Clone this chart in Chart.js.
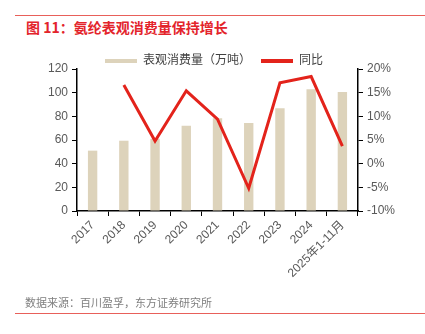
<!DOCTYPE html>
<html>
<head>
<meta charset="utf-8">
<script src="https://cdn.jsdelivr.net/npm/chart.js@4"></script>
<style>
  html, body { margin: 0; padding: 0; background: #fff; }
  #wrap { position: relative; width: 425px; height: 334px; overflow: hidden; }
  .rule { position: absolute; left: 15px; right: 0; height: 1px; background: #e8605a; }
  #title { position: absolute; left: 26px; top: 17px; font: bold 14px "Noto Sans CJK SC", sans-serif; color: #e3242b; }
  #source { position: absolute; left: 25px; top: 294px; font: 11px "Noto Sans CJK SC", sans-serif; color: #7f7f7f; }
  canvas { position: absolute; left: 0; top: 0; }
</style>
</head>
<body>
<div id="wrap">
  <div class="rule" style="top:15px"></div>
  <div id="title">图 11：氨纶表观消费量保持增长</div>
  <canvas id="chart" width="425" height="334"></canvas>
  <div id="source">数据来源：百川盈孚，东方证券研究所</div>
  <div class="rule" style="top:313px"></div>
</div>
<script>
const categories = ["2017", "2018", "2019", "2020", "2021", "2022", "2023", "2024", "2025年1-11月"]
const consumption = [51, 59.4, 61, 72, 78.3, 74.4, 86.8, 102.8, 100.6]
const yoy = [null, 16.6, 4.8, 15.4, 9.4, -5.2, 17.1, 18.4, 3.7]

const font = "'Liberation Sans', 'Noto Sans CJK SC', sans-serif"
const tickColor = "#595959"

const fixWidth = w => axis => { axis.width = w }

// keep the legend strip short so it sits just above the plot
const legendHeight = {
  id: "legendHeight",
  beforeUpdate(chart) {
    const lg = chart.legend
    if (!lg || lg._short) return
    const fit = lg.fit.bind(lg)
    lg.fit = function () { fit(); this.height = 24 }
    lg._short = true
  }
}

new Chart(document.getElementById("chart"), {
  data: {
    labels: categories,
    datasets: [
      {
        type: "line",
        label: "同比",
        data: yoy,
        yAxisID: "y1",
        borderColor: "#e3231b",
        backgroundColor: "#e3231b",
        borderWidth: 3,
        pointRadius: 0,
        tension: 0,
        order: 0
      },
      {
        type: "bar",
        label: "表观消费量（万吨）",
        data: consumption,
        yAxisID: "y",
        backgroundColor: "#ddd3bb",
        barPercentage: 0.6,
        categoryPercentage: 0.5,
        order: 1
      }
    ]
  },
  plugins: [legendHeight],
  options: {
    responsive: false,
    animation: false,
    layout: { padding: { left: 20, right: 17, top: 45, bottom: 40 } },
    plugins: {
      tooltip: { enabled: false },
      legend: {
        reverse: true,
        labels: {
          font: { family: font, size: 12 },
          color: "#404040",
          boxWidth: 32,
          boxHeight: 4,
          padding: 10,
          generateLabels(chart) {
            return Chart.defaults.plugins.legend.labels.generateLabels(chart).map(item => {
              item.lineWidth = 0
              return item
            })
          }
        }
      }
    },
    scales: {
      x: {
        offset: true,
        grid: { offset: true, drawOnChartArea: false, drawTicks: true, tickLength: 5, tickColor: "#000" },
        border: { color: "#000", width: 1.5 },
        ticks: { font: { family: font, size: 12 }, color: tickColor, minRotation: 45, maxRotation: 45, padding: 2 },
        afterFit: axis => { axis.height = 83 }
      },
      y: {
        position: "left",
        min: 0, max: 120,
        grid: { drawOnChartArea: false, tickLength: 5, tickColor: "#000" },
        border: { color: "#000", width: 1.5 },
        ticks: { stepSize: 20, font: { family: font, size: 12 }, color: tickColor, padding: 4 },
        afterFit: fixWidth(57)
      },
      y1: {
        position: "right",
        min: -10, max: 20,
        grid: { drawOnChartArea: false, tickLength: 5, tickColor: "#000" },
        border: { color: "#000", width: 1.5 },
        ticks: { stepSize: 5, font: { family: font, size: 12 }, color: tickColor, padding: 4, callback: v => v + "%" },
        afterFit: fixWidth(50)
      }
    }
  }
})
</script>
</body>
</html>
